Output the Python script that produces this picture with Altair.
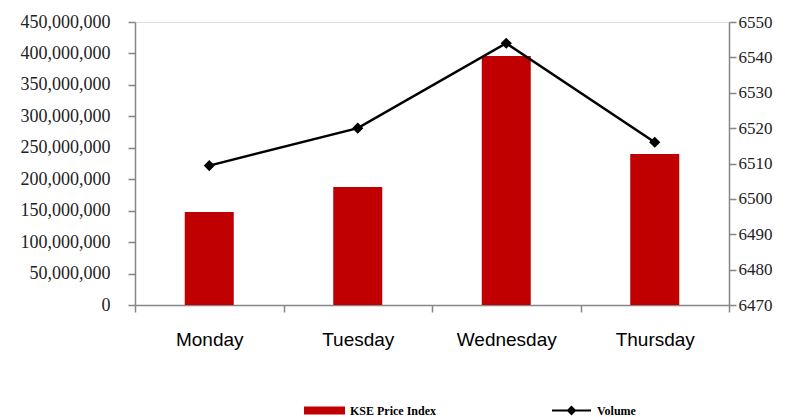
import altair as alt
import pandas as pd

# ---- data ----
days = ["Monday", "Tuesday", "Wednesday", "Thursday"]
bar_values = [148000000, 187500000, 396000000, 240000000]   # left axis (red bars)
line_values = [6509.4, 6520.0, 6544.0, 6516.0]                # right axis (black line)
bar_name = "KSE Price Index"
line_name = "Volume"

left_ticks = [0, 50000000, 100000000, 150000000, 200000000, 250000000,
              300000000, 350000000, 400000000, 450000000]
right_ticks = [6470, 6480, 6490, 6500, 6510, 6520, 6530, 6540, 6550]

df = pd.DataFrame({
    "day": days,
    "bar": bar_values,
    "line": line_values,
    "barname": [bar_name] * len(days),
    "linename": [line_name] * len(days),
})

AXIS_GRAY = "#868686"
SERIF = "Liberation Serif"
SANS = "Liberation Sans"

x_enc = alt.X(
    "day:N",
    sort=days,
    title=None,
    scale=alt.Scale(paddingInner=0, paddingOuter=0),
    axis=alt.Axis(
        labelAngle=0,
        labelFont=SANS,
        labelFontSize=19,
        labelColor="#000000",
        labelPadding=18,
        tickBand="extent",
        tickSize=7,
        tickColor=AXIS_GRAY,
        tickWidth=1.5,
        domainColor=AXIS_GRAY,
        domainWidth=1.5,
    ),
)

bars = alt.Chart(df).mark_bar(width=alt.RelativeBandSize(0.33)).encode(
    x=x_enc,
    y=alt.Y(
        "bar:Q",
        title=None,
        scale=alt.Scale(domain=[left_ticks[0], left_ticks[-1]], nice=False),
        axis=alt.Axis(
            orient="left",
            values=left_ticks,
            format=",d",
            labelFont=SERIF,
            labelFontSize=18,
            labelColor="#222222",
            labelPadding=18,
            tickSize=7,
            tickColor=AXIS_GRAY,
            tickWidth=1.5,
            domainColor=AXIS_GRAY,
            domainWidth=1.5,
            grid=False,
        ),
    ),
    fill=alt.Fill(
        "barname:N",
        scale=alt.Scale(domain=[bar_name], range=["#C00000"]),
        legend=alt.Legend(
            title=None,
            orient="none",
            legendX=169,
            legendY=368,
            symbolType="M-1,-0.2H1V0.2H-1Z",
            symbolSize=1681,
            symbolStrokeWidth=0,
            labelFont=SERIF,
            labelFontWeight="bold",
            labelFontSize=12,
            labelColor="#000000",
            labelOffset=5,
        ),
    ),
)

line = alt.Chart(df).mark_line(
    strokeWidth=2.5,
    point=alt.OverlayMarkDef(shape="diamond", filled=True, size=70, color="#000000", opacity=1),
).encode(
    x=alt.X("day:N", sort=days),
    y=alt.Y(
        "line:Q",
        title=None,
        scale=alt.Scale(domain=[right_ticks[0], right_ticks[-1]], nice=False, zero=False),
        axis=alt.Axis(
            orient="right",
            values=right_ticks,
            format="d",
            labelFont=SERIF,
            labelFontSize=17,
            labelColor="#222222",
            labelPadding=2,
            tickSize=7,
            tickColor=AXIS_GRAY,
            tickWidth=1.5,
            domainColor=AXIS_GRAY,
            domainWidth=1.5,
            grid=False,
        ),
    ),
    stroke=alt.Stroke(
        "linename:N",
        scale=alt.Scale(domain=[line_name], range=["#000000"]),
        legend=alt.Legend(
            title=None,
            orient="none",
            legendX=416,
            legendY=368,
            symbolType="M-1,0H1M0,-0.18L0.18,0L0,0.18L-0.18,0Z",
            symbolSize=1521,
            symbolStrokeWidth=2,
            symbolFillColor="#000000",
            labelFont=SERIF,
            labelFontWeight="bold",
            labelFontSize=12,
            labelColor="#000000",
            labelOffset=5,
        ),
    ),
)

chart = alt.layer(bars, line).resolve_scale(
    y="independent", fill="independent", stroke="independent"
).properties(
    width=594,
    height=283,
    autosize=alt.AutoSizeParams(type="none"),
    padding={"left": 127, "top": 14, "right": 55, "bottom": 112},
).configure_view(stroke=None).configure(background="#ffffff")

chart.save("out.html", embed_options={"renderer": "svg", "actions": False})
